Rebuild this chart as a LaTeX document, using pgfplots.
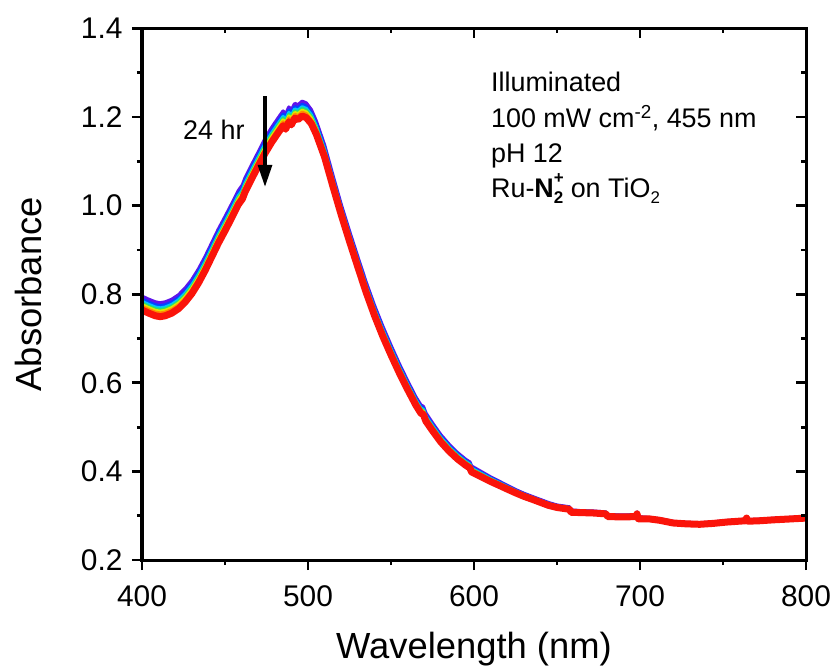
\documentclass[border=0pt]{standalone}
\usepackage{pgfplots}
\pgfplotsset{compat=1.18}
\usepackage{pgfplotstable}
\usepackage{fontspec}
\setmainfont{Liberation Sans}
\usetikzlibrary{arrows.meta}

\definecolor{cV}{RGB}{95,20,235}
\definecolor{cB}{RGB}{0,70,255}
\definecolor{cC}{RGB}{0,195,255}
\definecolor{cG}{RGB}{40,225,110}
\definecolor{cY}{RGB}{225,230,0}
\definecolor{cO}{RGB}{255,140,0}
\definecolor{cR}{RGB}{250,20,10}

\pgfplotstableread{
x V B C G Y O R
400 0.7954 0.7886 0.7837 0.7799 0.7762 0.7722 0.7644
404 0.7884 0.7816 0.7767 0.7729 0.7692 0.7652 0.7574
408 0.7824 0.7756 0.7707 0.7669 0.7632 0.7592 0.7514
411 0.7804 0.7736 0.7687 0.7649 0.7612 0.7572 0.7494
414 0.7824 0.7756 0.7707 0.7669 0.7632 0.7592 0.7514
418 0.7884 0.7816 0.7767 0.7729 0.7692 0.7652 0.7574
422 0.7984 0.7916 0.7867 0.7829 0.7792 0.7752 0.7674
426 0.8134 0.8066 0.8017 0.7979 0.7942 0.7902 0.7824
430 0.8324 0.8256 0.8207 0.8169 0.8132 0.8092 0.8014
434 0.8564 0.8496 0.8447 0.8409 0.8372 0.8332 0.8254
438 0.8844 0.8776 0.8727 0.8689 0.8652 0.8612 0.8534
442 0.9154 0.9086 0.9037 0.8999 0.8962 0.8922 0.8844
446 0.9464 0.9396 0.9347 0.9309 0.9272 0.9232 0.9154
450 0.9744 0.9676 0.9627 0.9589 0.9552 0.9512 0.9434
454 1.0034 0.9966 0.9917 0.9879 0.9842 0.9802 0.9724
458 1.0334 1.0266 1.0217 1.0179 1.0142 1.0102 1.0024
460.5 1.0464 1.0396 1.0347 1.0309 1.0272 1.0232 1.0154
462 1.0614 1.0546 1.0497 1.0459 1.0422 1.0382 1.0304
466 1.0914 1.0846 1.0797 1.0759 1.0722 1.0682 1.0604
470 1.1204 1.1136 1.1087 1.1049 1.1012 1.0972 1.0894
474 1.1505 1.1432 1.1380 1.1340 1.1300 1.1257 1.1175
478 1.1755 1.1682 1.1630 1.1590 1.1550 1.1507 1.1425
482 1.1975 1.1902 1.1850 1.1810 1.1770 1.1727 1.1645
485 1.2135 1.2062 1.2010 1.1970 1.1930 1.1887 1.1805
486.5 1.2055 1.1982 1.1930 1.1890 1.1850 1.1807 1.1725
488.5 1.2225 1.2152 1.2100 1.2060 1.2020 1.1977 1.1895
490 1.2155 1.2082 1.2030 1.1990 1.1950 1.1907 1.1825
492 1.2305 1.2232 1.2180 1.2140 1.2100 1.2057 1.1975
494 1.2275 1.2202 1.2150 1.2110 1.2070 1.2027 1.1945
496.5 1.2355 1.2282 1.2230 1.2190 1.2150 1.2107 1.2025
499 1.2315 1.2242 1.2190 1.2150 1.2110 1.2067 1.1985
502 1.2164 1.2096 1.2047 1.2009 1.1972 1.1932 1.1854
505 1.1904 1.1840 1.1794 1.1759 1.1724 1.1686 1.1614
510 1.1358 1.1301 1.1259 1.1228 1.1197 1.1163 1.1098
515 1.0677 1.0624 1.0586 1.0557 1.0528 1.0497 1.0437
520 1.0017 0.9968 0.9933 0.9907 0.9880 0.9852 0.9797
525 0.9417 0.9368 0.9333 0.9307 0.9280 0.9252 0.9197
530 0.8837 0.8788 0.8753 0.8727 0.8700 0.8672 0.8617
535 0.8267 0.8218 0.8183 0.8157 0.8130 0.8102 0.8047
540 0.7747 0.7698 0.7663 0.7637 0.7610 0.7582 0.7527
545 0.7277 0.7228 0.7193 0.7167 0.7140 0.7112 0.7057
550 0.6841 0.6795 0.6762 0.6736 0.6711 0.6684 0.6631
555 0.6426 0.6382 0.6350 0.6326 0.6302 0.6276 0.6226
560 0.6041 0.5999 0.5969 0.5946 0.5923 0.5898 0.5851
565 0.5675 0.5636 0.5607 0.5585 0.5564 0.5540 0.5495
568 0.5495 0.5456 0.5427 0.5405 0.5384 0.5360 0.5315
569.5 0.5465 0.5426 0.5397 0.5375 0.5354 0.5330 0.5285
571 0.5315 0.5276 0.5247 0.5225 0.5204 0.5180 0.5135
575 0.5090 0.5053 0.5026 0.5005 0.4985 0.4963 0.4920
580 0.4825 0.4790 0.4764 0.4745 0.4726 0.4705 0.4665
585 0.4610 0.4577 0.4553 0.4535 0.4516 0.4497 0.4459
590 0.4424 0.4393 0.4371 0.4354 0.4337 0.4319 0.4284
595 0.4269 0.4240 0.4220 0.4204 0.4188 0.4171 0.4139
597.5 0.4209 0.4180 0.4160 0.4144 0.4128 0.4111 0.4079
598.5 0.4119 0.4090 0.4070 0.4054 0.4038 0.4021 0.3989
602 0.4044 0.4017 0.3998 0.3984 0.3969 0.3954 0.3924
606 0.3958 0.3934 0.3917 0.3903 0.3890 0.3876 0.3848
610 0.3873 0.3851 0.3835 0.3823 0.3811 0.3798 0.3773
615 0.3778 0.3758 0.3744 0.3733 0.3722 0.3710 0.3688
620 0.3682 0.3665 0.3652 0.3642 0.3633 0.3622 0.3602
625 0.3587 0.3572 0.3561 0.3552 0.3544 0.3535 0.3517
630 0.3504 0.3490 0.3480 0.3472 0.3464 0.3456 0.3439
635 0.3432 0.3419 0.3409 0.3402 0.3395 0.3387 0.3372
640 0.3362 0.3349 0.3339 0.3332 0.3325 0.3317 0.3302
645 0.3292 0.3279 0.3269 0.3262 0.3255 0.3247 0.3232
650 0.3237 0.3226 0.3218 0.3212 0.3205 0.3199 0.3186
657.5 0.3197 0.3186 0.3178 0.3172 0.3165 0.3159 0.3146
658.5 0.3127 0.3116 0.3108 0.3102 0.3095 0.3089 0.3076
664 0.3111 0.3102 0.3096 0.3091 0.3086 0.3081 0.3071
672 0.3101 0.3092 0.3086 0.3081 0.3076 0.3071 0.3061
679.5 0.3081 0.3072 0.3066 0.3061 0.3056 0.3051 0.3041
680.5 0.3021 0.3012 0.3006 0.3001 0.2996 0.2991 0.2981
690 0.3011 0.3002 0.2996 0.2991 0.2986 0.2981 0.2971
697.5 0.3021 0.3012 0.3006 0.3001 0.2996 0.2991 0.2981
698.2 0.3081 0.3072 0.3066 0.3061 0.3056 0.3051 0.3041
699 0.2971 0.2962 0.2956 0.2951 0.2946 0.2941 0.2931
706 0.2956 0.2949 0.2945 0.2941 0.2937 0.2933 0.2926
712 0.2926 0.2919 0.2915 0.2911 0.2907 0.2903 0.2896
716 0.2896 0.2889 0.2885 0.2881 0.2877 0.2873 0.2866
720 0.2866 0.2859 0.2855 0.2851 0.2847 0.2843 0.2836
728 0.2846 0.2839 0.2835 0.2831 0.2827 0.2823 0.2816
736 0.2836 0.2829 0.2825 0.2821 0.2817 0.2813 0.2806
744 0.2856 0.2849 0.2845 0.2841 0.2837 0.2833 0.2826
752 0.2886 0.2879 0.2875 0.2871 0.2867 0.2863 0.2856
763.5 0.2916 0.2909 0.2905 0.2901 0.2897 0.2893 0.2886
764.2 0.2976 0.2969 0.2965 0.2961 0.2957 0.2953 0.2946
765 0.2906 0.2899 0.2895 0.2891 0.2887 0.2883 0.2876
772 0.2916 0.2909 0.2905 0.2901 0.2897 0.2893 0.2886
780 0.2936 0.2929 0.2925 0.2921 0.2917 0.2913 0.2906
790 0.2956 0.2949 0.2945 0.2941 0.2937 0.2933 0.2926
800 0.2976 0.2969 0.2965 0.2961 0.2957 0.2953 0.2946
}\spectra

\pgfplotsset{
  commonax/.style={
    scale only axis, width=664bp, height=531.5bp,
    xmin=400, xmax=800, ymin=0.2, ymax=1.4,
    xtick={400,500,600,700,800},
    ytick={0.2,0.4,0.6,0.8,1.0,1.2,1.4},
    minor x tick num=1, minor y tick num=1,
    major tick length=10bp, minor tick length=5bp,
    axis line style={line width=3bp, black},
    every tick/.append style={line width=2.8bp, black},
    /pgf/number format/assume math mode=true,
    ticklabel style={font=\fontsize{30}{36}\selectfont},
  }
}

\begin{document}
\begin{tikzpicture}
\begin{axis}[commonax, name=main,
  xtick pos=bottom, ytick pos=left, tick align=outside,
  xticklabel style={yshift=-12bp},
  yticklabel style={xshift=-6bp, /pgf/number format/fixed, /pgf/number format/fixed zerofill, /pgf/number format/precision=1},
  xlabel={Wavelength (nm)}, ylabel={Absorbance},
  label style={font=\fontsize{36.5}{44}\selectfont},
  xlabel style={at={(axis description cs:0.5,-0.1844)}, anchor=base},
  ylabel style={at={(axis description cs:-0.1506,0.5)}, anchor=base},
  clip=true]
\addplot[cV, line width=3.5bp, line join=round] table[x=x,y=V]{\spectra};
\addplot[cB, line width=3.5bp, line join=round] table[x=x,y=B]{\spectra};
\addplot[cC, line width=3.5bp, line join=round] table[x=x,y=C]{\spectra};
\addplot[cG, line width=3.5bp, line join=round] table[x=x,y=G]{\spectra};
\addplot[cY, line width=3.5bp, line join=round] table[x=x,y=Y]{\spectra};
\addplot[cO, line width=3.5bp, line join=round] table[x=x,y=O]{\spectra};
\addplot[cR, line width=7bp, line join=round] table[x=x,y=R]{\spectra};
\draw[line width=3.2bp, -{Triangle[width=14bp,length=22bp]}] (axis cs:474.1,1.2475) -- (axis cs:474.1,1.0425);
\node[anchor=base west, inner sep=0pt, font=\fontsize{27}{32}\selectfont] at (axis cs:424.7,1.1503) {24 hr};
\node[anchor=base west, inner sep=0pt, font=\fontsize{27}{32}\selectfont] at (axis cs:610.2,1.2588) {Illuminated};
\node[anchor=base west, inner sep=0pt, font=\fontsize{27}{32}\selectfont] at (axis cs:610.2,1.1775) {100 mW cm\textsuperscript{-2}, 455 nm};
\node[anchor=base west, inner sep=0pt, font=\fontsize{27}{32}\selectfont] at (axis cs:610.2,1.0984) {pH 12};
\node[anchor=base west, inner sep=0pt, font=\fontsize{27}{32}\selectfont] at (axis cs:610.2,1.0193) {Ru-\textbf{N}\rlap{\raisebox{0.5em}{\fontsize{17}{17}\selectfont\bfseries +}}\raisebox{-0.22em}{\fontsize{17}{17}\selectfont\bfseries 2} on TiO\raisebox{-0.22em}{\fontsize{17}{17}\selectfont 2}};
\end{axis}
\begin{axis}[commonax,
  xtick pos=top, ytick pos=right, tick align=inside,
  xticklabels={}, yticklabels={}]
\end{axis}
\pgfresetboundingbox
\path ([shift={(-142bp,-112bp)}]main.south west) rectangle ([shift={(32bp,28.5bp)}]main.north east);
\end{tikzpicture}
\end{document}
